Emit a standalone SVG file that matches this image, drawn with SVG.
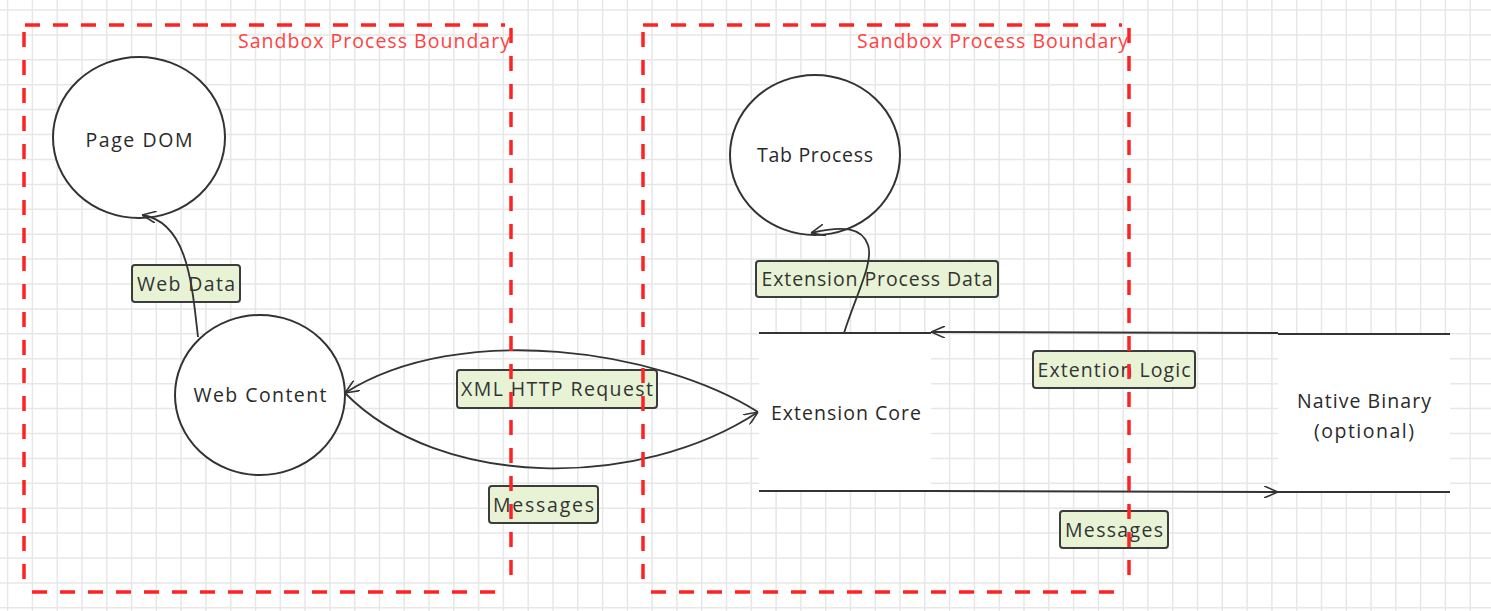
<svg xmlns="http://www.w3.org/2000/svg" width="1491" height="611" viewBox="0 0 1491 611">
  <style>
    .grid { stroke: #e7e7e7; stroke-width: 1.5; fill: none; }
    .node { fill: #ffffff; stroke: #333333; stroke-width: 2; }
    .store { fill: #ffffff; stroke: none; }
    .edge { fill: none; stroke: #333333; stroke-width: 1.8; }
    .boundary { fill: none; stroke: #ff2222; stroke-width: 3.5; stroke-dasharray: 15 13; }
    .btext { font-family: "Open Sans", "Noto Sans", sans-serif; font-size: 19.5px; fill: #ff4242; }
    .ntext { font-family: "Open Sans", "Noto Sans", sans-serif; font-size: 19.5px; fill: #2a2a2a; text-anchor: middle; }
    .lbox { fill: #e8f3d6; stroke: #3c3c3c; stroke-width: 2; }
    .ltext { font-family: "Open Sans", "Noto Sans", sans-serif; font-size: 19.5px; fill: #333333; text-anchor: middle; }
  </style>
  <defs>
    <marker id="arrow" viewBox="0 0 14 12" refX="14" refY="6" markerWidth="14" markerHeight="12" markerUnits="userSpaceOnUse" orient="auto">
      <path d="M0,0 L14,6 L0,12" fill="none" stroke="#333333" stroke-width="1.6"/>
    </marker>
  </defs>

  <!-- background and grid -->
  <rect width="1491" height="611" fill="#ffffff"/>
  <path class="grid" d="M7.6 0V611M32.4 0V611M57.2 0V611M82 0V611M106.8 0V611M131.6 0V611M156.3 0V611M181.1 0V611M205.9 0V611M230.7 0V611M255.5 0V611M280.3 0V611M305.1 0V611M329.9 0V611M354.7 0V611M379.5 0V611M404.2 0V611M429 0V611M453.8 0V611M478.6 0V611M503.4 0V611M528.2 0V611M553 0V611M577.8 0V611M602.6 0V611M627.4 0V611M652.1 0V611M676.9 0V611M701.7 0V611M726.5 0V611M751.3 0V611M776.1 0V611M800.9 0V611M825.7 0V611M850.5 0V611M875.3 0V611M900 0V611M924.8 0V611M949.6 0V611M974.4 0V611M999.2 0V611M1024 0V611M1048.8 0V611M1073.6 0V611M1098.4 0V611M1123.2 0V611M1147.9 0V611M1172.7 0V611M1197.5 0V611M1222.3 0V611M1247.1 0V611M1271.9 0V611M1296.7 0V611M1321.5 0V611M1346.3 0V611M1371.1 0V611M1395.8 0V611M1420.6 0V611M1445.4 0V611M1470.2 0V611
    M0 10H1491M0 34.9H1491M0 59.8H1491M0 84.7H1491M0 109.6H1491M0 134.6H1491M0 159.5H1491M0 184.4H1491M0 209.3H1491M0 234.2H1491M0 259.1H1491M0 284H1491M0 308.9H1491M0 333.8H1491M0 358.7H1491M0 383.7H1491M0 408.6H1491M0 433.5H1491M0 458.4H1491M0 483.3H1491M0 508.2H1491M0 533.1H1491M0 558H1491M0 582.9H1491M0 607.8H1491"/>

  <!-- process nodes -->
  <g id="page-dom">
    <ellipse class="node" cx="139" cy="137.5" rx="86" ry="80.5"/>
    <text class="ntext" x="139" y="147" textLength="107">Page DOM</text>
  </g>
  <g id="web-content">
    <ellipse class="node" cx="260" cy="395" rx="85" ry="80"/>
    <text class="ntext" x="260" y="402" textLength="133">Web Content</text>
  </g>
  <g id="tab-process">
    <ellipse class="node" cx="815" cy="155" rx="85" ry="80"/>
    <text class="ntext" x="815" y="162" textLength="116">Tab Process</text>
  </g>
  <g id="extension-core">
    <rect class="store" x="759" y="333" width="172" height="158"/>
    <path class="edge" d="M759,333 H931 M759,491 H931"/>
    <text class="ntext" x="846" y="420" textLength="150">Extension Core</text>
  </g>
  <g id="native-binary">
    <rect class="store" x="1278" y="334" width="172" height="158"/>
    <path class="edge" d="M1278,334 H1450 M1278,492 H1450"/>
    <text class="ntext" x="1364" y="408" textLength="134">Native Binary</text>
    <text class="ntext" x="1364" y="438" textLength="100">(optional)</text>
  </g>

  <!-- flow labels -->
  <g id="labels">
    <rect class="lbox" x="132" y="265" width="108" height="37" rx="3"/>
    <text class="ltext" x="186" y="291" textLength="98">Web Data</text>
    <rect class="lbox" x="756" y="261" width="242" height="36" rx="3"/>
    <text class="ltext" x="877" y="286" textLength="231">Extension Process Data</text>
    <rect class="lbox" x="457" y="370" width="200" height="38" rx="3"/>
    <text class="ltext" x="557" y="396" textLength="192">XML HTTP Request</text>
    <rect class="lbox" x="489" y="486" width="109" height="37" rx="3"/>
    <text class="ltext" x="543.5" y="512" textLength="101">Messages</text>
    <rect class="lbox" x="1033" y="351" width="162" height="37" rx="3"/>
    <text class="ltext" x="1114" y="377" textLength="153">Extention Logic</text>
    <rect class="lbox" x="1060" y="511" width="108" height="37" rx="3"/>
    <text class="ltext" x="1114" y="537" textLength="98">Messages</text>
  </g>

  <!-- data flows -->
  <g id="connectors">
    <path class="edge" marker-end="url(#arrow)" d="M198,337 C192,285 188,222 142,215"/>
    <path class="edge" marker-end="url(#arrow)" d="M844,333 C856,295 874,262 868,245 C862,228 845,225 811,233"/>
    <path class="edge" marker-end="url(#arrow)" d="M758,412 C660,350 460,320 345,393"/>
    <path class="edge" marker-end="url(#arrow)" d="M345,393 C440,490 640,490 758,412"/>
    <path class="edge" marker-end="url(#arrow)" d="M1278,333 L931,332"/>
    <path class="edge" marker-end="url(#arrow)" d="M931,491 L1278,492"/>
  </g>

  <!-- trust boundaries -->
  <g id="boundary-web">
    <path class="boundary" d="M25,25 H505 M24,32 V585 M511,28 V585 M32,592 H505"/>
    <text class="btext" x="510" y="48" text-anchor="end" textLength="272">Sandbox Process Boundary</text>
  </g>
  <g id="boundary-extension">
    <path class="boundary" d="M643,25 H1122 M643,32 V585 M1129,28 V585 M651,592 H1123"/>
    <text class="btext" x="1128" y="48" text-anchor="end" textLength="271">Sandbox Process Boundary</text>
  </g>
</svg>
